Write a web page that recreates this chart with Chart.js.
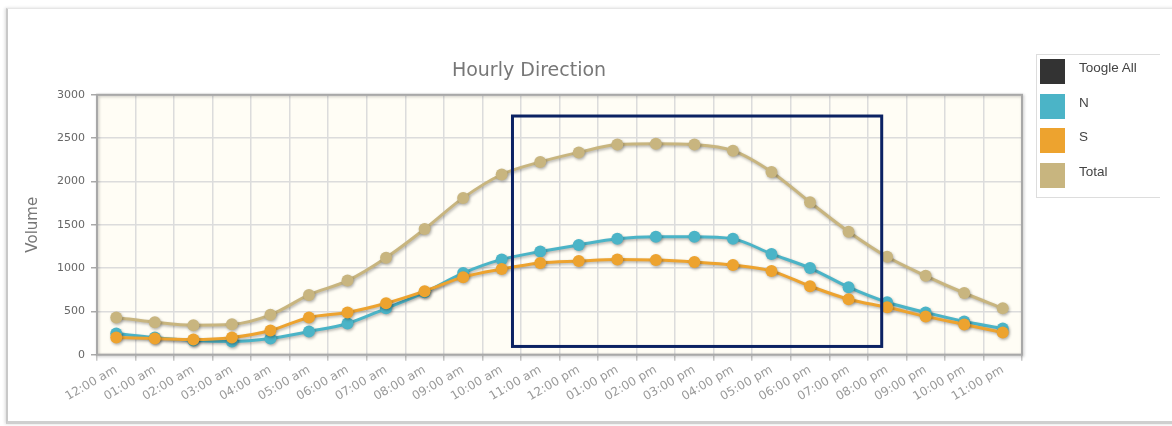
<!DOCTYPE html>
<html lang="en">
<head>
    <meta charset="UTF-8">
    <title>Hourly Direction</title>
    <style>
        body { margin: 0; background: #fff; font-family: "Liberation Sans", Arial, sans-serif; }
        #card { position: absolute; left: 6px; top: 8px; width: 1180px; height: 412px; border-left: 2px solid #c8c8c8; border-top: 1px solid #e6e6e6; border-bottom: 3px solid #cfcfcf; box-shadow: -1px 0 3px rgba(0,0,0,0.15); background: #fff; }
        #wrap { position: absolute; left: 18px; top: 50px; width: 1022px; height: 356px; }
        #legend { position: absolute; left: 1036px; top: 54px; width: 124px; height: 144px; border-top: 1px solid #ddd; border-left: 1px solid #ddd; border-bottom: 1px solid #ddd; padding-top: 3px; box-sizing: border-box; }
        .item { height: 34.5px; display: flex; align-items: flex-start; }
        .sw { width: 25px; height: 25px; margin-left: 3px; margin-top: 1px; }
        .lab { margin-left: 14px; font-size: 13.5px; color: #444; margin-top: 2px; }
    </style>
</head>
<body>
    <div id="card"></div>
    <div id="wrap"><canvas id="chart"></canvas></div>
    <div id="legend"></div>
    <script src="https://cdn.jsdelivr.net/npm/chart.js"></script>
    <script>
        const hours = ['12:00 am', '01:00 am', '02:00 am', '03:00 am', '04:00 am', '05:00 am', '06:00 am', '07:00 am',
            '08:00 am', '09:00 am', '10:00 am', '11:00 am', '12:00 pm', '01:00 pm', '02:00 pm', '03:00 pm',
            '04:00 pm', '05:00 pm', '06:00 pm', '07:00 pm', '08:00 pm', '09:00 pm', '10:00 pm', '11:00 pm'];
        const northVals = [244, 198, 163, 151, 186, 267, 360, 535, 720, 942, 1100, 1190, 1267, 1337, 1360, 1360, 1337, 1163, 1000, 779, 605, 488, 384, 302];
        const southVals = [198, 186, 174, 198, 279, 430, 488, 593, 733, 895, 988, 1058, 1081, 1100, 1093, 1070, 1035, 965, 791, 640, 547, 442, 349, 256];
        const totalVals = [430, 375, 340, 350, 460, 690, 855, 1120, 1450, 1810, 2080, 2225, 2335, 2425, 2435, 2425, 2355, 2110, 1760, 1420, 1130, 910, 712, 535];
        const yTicks = [0, 500, 1000, 1500, 2000, 2500, 3000];

        const colN = '#4bb4c7';
        const colS = '#eda32f';
        const colT = '#c8b57f';

        // legend on the right
        const legendItems = [['Toogle All', '#333333'], ['N', colN], ['S', colS], ['Total', colT]];
        const legend = document.getElementById('legend');
        legendItems.forEach(([name, c]) => {
            legend.innerHTML += `<div class="item"><div class="sw" style="background:${c}"></div><div class="lab">${name}</div></div>`;
        });

        // highlight rectangle drawn over the chart (in axis units)
        const boxX = [10.28, 19.86];
        const boxY = [95, 2755];

        const areaPlugin = {
            id: 'area',
            beforeDraw(chart) {
                const { ctx, chartArea: a } = chart;
                ctx.save();
                ctx.fillStyle = '#fffdf5';
                ctx.fillRect(a.left, a.top, a.right - a.left, a.bottom - a.top);
                ctx.restore();
            },
            afterDraw(chart) {
                const { ctx, chartArea: a, scales } = chart;
                ctx.save();
                ctx.strokeStyle = '#a8a8a8';
                ctx.lineWidth = 2;
                ctx.shadowColor = 'rgba(0,0,0,0.25)';
                ctx.shadowBlur = 3;
                ctx.shadowOffsetX = 1;
                ctx.shadowOffsetY = 1;
                ctx.strokeRect(a.left, a.top, a.right - a.left, a.bottom - a.top);
                ctx.restore();

                const x1 = scales.x.getPixelForValue(boxX[0]);
                const x2 = scales.x.getPixelForValue(boxX[1]);
                const y1 = scales.y.getPixelForValue(boxY[1]);
                const y2 = scales.y.getPixelForValue(boxY[0]);
                ctx.save();
                ctx.strokeStyle = '#0b2263';
                ctx.lineWidth = 3;
                ctx.strokeRect(x1, y1, x2 - x1, y2 - y1);
                ctx.restore();
            },
            beforeDatasetsDraw(chart) {
                chart.ctx.save();
                chart.ctx.shadowColor = 'rgba(0,0,0,0.3)';
                chart.ctx.shadowBlur = 3;
                chart.ctx.shadowOffsetX = 1;
                chart.ctx.shadowOffsetY = 1.5;
            },
            afterDatasetsDraw(chart) {
                chart.ctx.restore();
            }
        };

        function series(label, data, color, order) {
            return {
                label, data, order,
                borderColor: color,
                backgroundColor: color,
                pointBackgroundColor: color,
                pointBorderWidth: 0,
                borderWidth: 3,
                pointRadius: 6,
                tension: 0.35,
                cubicInterpolationMode: 'monotone'
            };
        }

        new Chart(document.getElementById('chart'), {
            type: 'line',
            data: {
                labels: hours,
                datasets: [
                    series('N', northVals, colN, 2),
                    series('S', southVals, colS, 1),
                    series('Total', totalVals, colT, 3)
                ]
            },
            options: {
                responsive: true,
                maintainAspectRatio: false,
                animation: false,
                layout: { padding: { left: 18, right: 18, top: 0, bottom: 0 } },
                plugins: {
                    legend: { display: false },
                    tooltip: { enabled: false },
                    title: {
                        display: true,
                        text: 'Hourly Direction',
                        color: '#777',
                        font: { family: 'DejaVu Sans', size: 19, weight: 'normal' },
                        padding: { top: 10, bottom: 12 }
                    }
                },
                scales: {
                    x: {
                        offset: true,
                        grid: { offset: true, color: '#dcdcdc', lineWidth: 1.5, tickLength: 6, tickColor: '#c8c8c8' },
                        border: { display: false },
                        ticks: {
                            color: '#999',
                            font: { family: 'DejaVu Sans', size: 12 },
                            maxRotation: 30,
                            minRotation: 30,
                            autoSkip: false,
                            padding: 2
                        }
                    },
                    y: {
                        min: 0,
                        max: 3000,
                        afterBuildTicks(axis) { axis.ticks = yTicks.map(v => ({ value: v })); },
                        grid: { color: '#dcdcdc', lineWidth: 1.5, tickLength: 6, tickColor: '#aaa' },
                        border: { display: false },
                        ticks: {
                            color: '#666',
                            font: { family: 'DejaVu Sans', size: 11 },
                            padding: 6,
                            callback: v => String(v)
                        },
                        title: {
                            display: true,
                            text: 'Volume',
                            color: '#777',
                            font: { family: 'DejaVu Sans', size: 15 },
                            padding: { top: -12, bottom: 9 }
                        }
                    }
                }
            },
            plugins: [areaPlugin]
        });
    </script>
</body>
</html>
